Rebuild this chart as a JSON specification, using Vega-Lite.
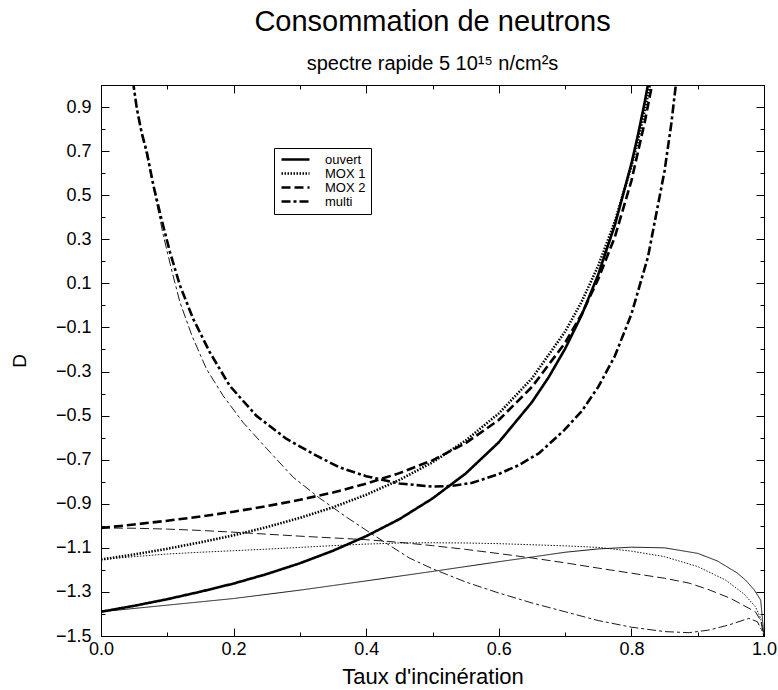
{
  "$schema": "https://vega.github.io/schema/vega-lite/v6.json",
  "width": 663,
  "height": 551,
  "autosize": {"type": "none"},
  "padding": {"left": 101, "top": 85, "right": 14, "bottom": 54},
  "background": "white",
  "config": {
    "font": "Liberation Sans",
    "view": {"stroke": "black", "strokeWidth": 1},
    "axis": {"domainColor": "black", "tickColor": "black", "labelColor": "black", "titleColor": "black", "grid": false, "labelFont": "Liberation Sans", "titleFont": "Liberation Sans", "titleFontWeight": "normal", "labelOverlap": false, "labelFlush": false, "labelBound": false}
  },
  "title": {"text": "Consommation de neutrons", "subtitle": "spectre rapide 5 10¹⁵ n/cm²s", "font": "Liberation Sans", "subtitleFont": "Liberation Sans", "fontSize": 29, "fontWeight": "normal", "color": "black", "subtitleFontSize": 20, "subtitleColor": "black", "anchor": "middle", "offset": -48, "subtitlePadding": 17},
  "datasets": {
    "curves": [
      {"serie": "ouvert", "kind": "thick", "x": 0, "D": -1.39},
      {"serie": "ouvert", "kind": "thick", "x": 0.05, "D": -1.363},
      {"serie": "ouvert", "kind": "thick", "x": 0.1, "D": -1.333},
      {"serie": "ouvert", "kind": "thick", "x": 0.15, "D": -1.299},
      {"serie": "ouvert", "kind": "thick", "x": 0.2, "D": -1.262},
      {"serie": "ouvert", "kind": "thick", "x": 0.25, "D": -1.219},
      {"serie": "ouvert", "kind": "thick", "x": 0.3, "D": -1.17},
      {"serie": "ouvert", "kind": "thick", "x": 0.35, "D": -1.113},
      {"serie": "ouvert", "kind": "thick", "x": 0.4, "D": -1.047},
      {"serie": "ouvert", "kind": "thick", "x": 0.45, "D": -0.97},
      {"serie": "ouvert", "kind": "thick", "x": 0.5, "D": -0.876},
      {"serie": "ouvert", "kind": "thick", "x": 0.55, "D": -0.763},
      {"serie": "ouvert", "kind": "thick", "x": 0.6, "D": -0.621},
      {"serie": "ouvert", "kind": "thick", "x": 0.65, "D": -0.439},
      {"serie": "ouvert", "kind": "thick", "x": 0.675, "D": -0.327},
      {"serie": "ouvert", "kind": "thick", "x": 0.7, "D": -0.197},
      {"serie": "ouvert", "kind": "thick", "x": 0.725, "D": -0.044},
      {"serie": "ouvert", "kind": "thick", "x": 0.75, "D": 0.14},
      {"serie": "ouvert", "kind": "thick", "x": 0.775, "D": 0.364},
      {"serie": "ouvert", "kind": "thick", "x": 0.8, "D": 0.643},
      {"serie": "ouvert", "kind": "thick", "x": 0.81, "D": 0.775},
      {"serie": "ouvert", "kind": "thick", "x": 0.82, "D": 0.921},
      {"serie": "ouvert", "kind": "thick", "x": 0.83, "D": 1.083},
      {"serie": "ouvert", "kind": "thick", "x": 0.84, "D": 1.266},

      {"serie": "MOX 1", "kind": "thick", "x": 0, "D": -1.153},
      {"serie": "MOX 1", "kind": "thick", "x": 0.05, "D": -1.13},
      {"serie": "MOX 1", "kind": "thick", "x": 0.1, "D": -1.104},
      {"serie": "MOX 1", "kind": "thick", "x": 0.15, "D": -1.075},
      {"serie": "MOX 1", "kind": "thick", "x": 0.2, "D": -1.043},
      {"serie": "MOX 1", "kind": "thick", "x": 0.25, "D": -1.006},
      {"serie": "MOX 1", "kind": "thick", "x": 0.3, "D": -0.964},
      {"serie": "MOX 1", "kind": "thick", "x": 0.35, "D": -0.916},
      {"serie": "MOX 1", "kind": "thick", "x": 0.4, "D": -0.859},
      {"serie": "MOX 1", "kind": "thick", "x": 0.45, "D": -0.792},
      {"serie": "MOX 1", "kind": "thick", "x": 0.5, "D": -0.712},
      {"serie": "MOX 1", "kind": "thick", "x": 0.55, "D": -0.613},
      {"serie": "MOX 1", "kind": "thick", "x": 0.6, "D": -0.49},
      {"serie": "MOX 1", "kind": "thick", "x": 0.65, "D": -0.331},
      {"serie": "MOX 1", "kind": "thick", "x": 0.7, "D": -0.119},
      {"serie": "MOX 1", "kind": "thick", "x": 0.725, "D": 0.017},
      {"serie": "MOX 1", "kind": "thick", "x": 0.75, "D": 0.18},
      {"serie": "MOX 1", "kind": "thick", "x": 0.775, "D": 0.38},
      {"serie": "MOX 1", "kind": "thick", "x": 0.8, "D": 0.631},
      {"serie": "MOX 1", "kind": "thick", "x": 0.81, "D": 0.75},
      {"serie": "MOX 1", "kind": "thick", "x": 0.82, "D": 0.883},
      {"serie": "MOX 1", "kind": "thick", "x": 0.83, "D": 1.031},
      {"serie": "MOX 1", "kind": "thick", "x": 0.84, "D": 1.199},

      {"serie": "MOX 2", "kind": "thick", "x": 0, "D": -1.01},
      {"serie": "MOX 2", "kind": "thick", "x": 0.05, "D": -0.994},
      {"serie": "MOX 2", "kind": "thick", "x": 0.1, "D": -0.977},
      {"serie": "MOX 2", "kind": "thick", "x": 0.15, "D": -0.958},
      {"serie": "MOX 2", "kind": "thick", "x": 0.2, "D": -0.936},
      {"serie": "MOX 2", "kind": "thick", "x": 0.25, "D": -0.911},
      {"serie": "MOX 2", "kind": "thick", "x": 0.3, "D": -0.882},
      {"serie": "MOX 2", "kind": "thick", "x": 0.35, "D": -0.849},
      {"serie": "MOX 2", "kind": "thick", "x": 0.4, "D": -0.809},
      {"serie": "MOX 2", "kind": "thick", "x": 0.45, "D": -0.761},
      {"serie": "MOX 2", "kind": "thick", "x": 0.5, "D": -0.703},
      {"serie": "MOX 2", "kind": "thick", "x": 0.55, "D": -0.625},
      {"serie": "MOX 2", "kind": "thick", "x": 0.6, "D": -0.52},
      {"serie": "MOX 2", "kind": "thick", "x": 0.65, "D": -0.37},
      {"serie": "MOX 2", "kind": "thick", "x": 0.7, "D": -0.17},
      {"serie": "MOX 2", "kind": "thick", "x": 0.725, "D": -0.04},
      {"serie": "MOX 2", "kind": "thick", "x": 0.75, "D": 0.12},
      {"serie": "MOX 2", "kind": "thick", "x": 0.775, "D": 0.31},
      {"serie": "MOX 2", "kind": "thick", "x": 0.8, "D": 0.565},
      {"serie": "MOX 2", "kind": "thick", "x": 0.82, "D": 0.83},
      {"serie": "MOX 2", "kind": "thick", "x": 0.835, "D": 1.06},
      {"serie": "MOX 2", "kind": "thick", "x": 0.845, "D": 1.25},

      {"serie": "multi", "kind": "thick", "x": 0.046, "D": 1.1},
      {"serie": "multi", "kind": "thick", "x": 0.049, "D": 1.0},
      {"serie": "multi", "kind": "thick", "x": 0.054, "D": 0.894},
      {"serie": "multi", "kind": "thick", "x": 0.061, "D": 0.788},
      {"serie": "multi", "kind": "thick", "x": 0.069, "D": 0.697},
      {"serie": "multi", "kind": "thick", "x": 0.079, "D": 0.545},
      {"serie": "multi", "kind": "thick", "x": 0.091, "D": 0.394},
      {"serie": "multi", "kind": "thick", "x": 0.104, "D": 0.242},
      {"serie": "multi", "kind": "thick", "x": 0.119, "D": 0.091},
      {"serie": "multi", "kind": "thick", "x": 0.139, "D": -0.061},
      {"serie": "multi", "kind": "thick", "x": 0.164, "D": -0.212},
      {"serie": "multi", "kind": "thick", "x": 0.194, "D": -0.364},
      {"serie": "multi", "kind": "thick", "x": 0.234, "D": -0.5},
      {"serie": "multi", "kind": "thick", "x": 0.28, "D": -0.606},
      {"serie": "multi", "kind": "thick", "x": 0.325, "D": -0.682},
      {"serie": "multi", "kind": "thick", "x": 0.36, "D": -0.735},
      {"serie": "multi", "kind": "thick", "x": 0.4, "D": -0.775},
      {"serie": "multi", "kind": "thick", "x": 0.45, "D": -0.808},
      {"serie": "multi", "kind": "thick", "x": 0.5, "D": -0.822},
      {"serie": "multi", "kind": "thick", "x": 0.526, "D": -0.82},
      {"serie": "multi", "kind": "thick", "x": 0.56, "D": -0.805},
      {"serie": "multi", "kind": "thick", "x": 0.6, "D": -0.765},
      {"serie": "multi", "kind": "thick", "x": 0.63, "D": -0.725},
      {"serie": "multi", "kind": "thick", "x": 0.661, "D": -0.67},
      {"serie": "multi", "kind": "thick", "x": 0.699, "D": -0.565},
      {"serie": "multi", "kind": "thick", "x": 0.725, "D": -0.48},
      {"serie": "multi", "kind": "thick", "x": 0.75, "D": -0.37},
      {"serie": "multi", "kind": "thick", "x": 0.775, "D": -0.23},
      {"serie": "multi", "kind": "thick", "x": 0.8, "D": -0.04},
      {"serie": "multi", "kind": "thick", "x": 0.825, "D": 0.22},
      {"serie": "multi", "kind": "thick", "x": 0.85, "D": 0.61},
      {"serie": "multi", "kind": "thick", "x": 0.86, "D": 0.82},
      {"serie": "multi", "kind": "thick", "x": 0.867, "D": 1.0},
      {"serie": "multi", "kind": "thick", "x": 0.872, "D": 1.15},

      {"serie": "ouvert", "kind": "thin", "x": 0, "D": -1.39},
      {"serie": "ouvert", "kind": "thin", "x": 0.1, "D": -1.36},
      {"serie": "ouvert", "kind": "thin", "x": 0.2, "D": -1.33},
      {"serie": "ouvert", "kind": "thin", "x": 0.3, "D": -1.292},
      {"serie": "ouvert", "kind": "thin", "x": 0.4, "D": -1.25},
      {"serie": "ouvert", "kind": "thin", "x": 0.5, "D": -1.207},
      {"serie": "ouvert", "kind": "thin", "x": 0.6, "D": -1.163},
      {"serie": "ouvert", "kind": "thin", "x": 0.64, "D": -1.146},
      {"serie": "ouvert", "kind": "thin", "x": 0.7, "D": -1.12},
      {"serie": "ouvert", "kind": "thin", "x": 0.75, "D": -1.105},
      {"serie": "ouvert", "kind": "thin", "x": 0.8, "D": -1.097},
      {"serie": "ouvert", "kind": "thin", "x": 0.85, "D": -1.1},
      {"serie": "ouvert", "kind": "thin", "x": 0.9, "D": -1.125},
      {"serie": "ouvert", "kind": "thin", "x": 0.93, "D": -1.16},
      {"serie": "ouvert", "kind": "thin", "x": 0.96, "D": -1.215},
      {"serie": "ouvert", "kind": "thin", "x": 0.972, "D": -1.246},
      {"serie": "ouvert", "kind": "thin", "x": 0.985, "D": -1.29},
      {"serie": "ouvert", "kind": "thin", "x": 0.995, "D": -1.337},
      {"serie": "ouvert", "kind": "thin", "x": 1.0, "D": -1.5},

      {"serie": "MOX 1", "kind": "thin", "x": 0, "D": -1.153},
      {"serie": "MOX 1", "kind": "thin", "x": 0.05, "D": -1.14},
      {"serie": "MOX 1", "kind": "thin", "x": 0.1, "D": -1.128},
      {"serie": "MOX 1", "kind": "thin", "x": 0.15, "D": -1.12},
      {"serie": "MOX 1", "kind": "thin", "x": 0.2, "D": -1.113},
      {"serie": "MOX 1", "kind": "thin", "x": 0.25, "D": -1.106},
      {"serie": "MOX 1", "kind": "thin", "x": 0.3, "D": -1.098},
      {"serie": "MOX 1", "kind": "thin", "x": 0.35, "D": -1.09},
      {"serie": "MOX 1", "kind": "thin", "x": 0.4, "D": -1.083},
      {"serie": "MOX 1", "kind": "thin", "x": 0.45, "D": -1.078},
      {"serie": "MOX 1", "kind": "thin", "x": 0.5, "D": -1.077},
      {"serie": "MOX 1", "kind": "thin", "x": 0.55, "D": -1.078},
      {"serie": "MOX 1", "kind": "thin", "x": 0.6, "D": -1.081},
      {"serie": "MOX 1", "kind": "thin", "x": 0.65, "D": -1.086},
      {"serie": "MOX 1", "kind": "thin", "x": 0.7, "D": -1.091},
      {"serie": "MOX 1", "kind": "thin", "x": 0.75, "D": -1.098},
      {"serie": "MOX 1", "kind": "thin", "x": 0.8, "D": -1.115},
      {"serie": "MOX 1", "kind": "thin", "x": 0.85, "D": -1.14},
      {"serie": "MOX 1", "kind": "thin", "x": 0.9, "D": -1.185},
      {"serie": "MOX 1", "kind": "thin", "x": 0.942, "D": -1.246},
      {"serie": "MOX 1", "kind": "thin", "x": 0.97, "D": -1.31},
      {"serie": "MOX 1", "kind": "thin", "x": 0.987, "D": -1.367},
      {"serie": "MOX 1", "kind": "thin", "x": 0.995, "D": -1.42},
      {"serie": "MOX 1", "kind": "thin", "x": 1.0, "D": -1.5},

      {"serie": "MOX 2", "kind": "thin", "x": 0, "D": -1.01},
      {"serie": "MOX 2", "kind": "thin", "x": 0.05, "D": -1.011},
      {"serie": "MOX 2", "kind": "thin", "x": 0.1, "D": -1.015},
      {"serie": "MOX 2", "kind": "thin", "x": 0.15, "D": -1.021},
      {"serie": "MOX 2", "kind": "thin", "x": 0.2, "D": -1.029},
      {"serie": "MOX 2", "kind": "thin", "x": 0.25, "D": -1.038},
      {"serie": "MOX 2", "kind": "thin", "x": 0.3, "D": -1.047},
      {"serie": "MOX 2", "kind": "thin", "x": 0.35, "D": -1.055},
      {"serie": "MOX 2", "kind": "thin", "x": 0.4, "D": -1.063},
      {"serie": "MOX 2", "kind": "thin", "x": 0.45, "D": -1.075},
      {"serie": "MOX 2", "kind": "thin", "x": 0.5, "D": -1.09},
      {"serie": "MOX 2", "kind": "thin", "x": 0.55, "D": -1.107},
      {"serie": "MOX 2", "kind": "thin", "x": 0.6, "D": -1.126},
      {"serie": "MOX 2", "kind": "thin", "x": 0.65, "D": -1.146},
      {"serie": "MOX 2", "kind": "thin", "x": 0.7, "D": -1.168},
      {"serie": "MOX 2", "kind": "thin", "x": 0.75, "D": -1.192},
      {"serie": "MOX 2", "kind": "thin", "x": 0.8, "D": -1.215},
      {"serie": "MOX 2", "kind": "thin", "x": 0.85, "D": -1.238},
      {"serie": "MOX 2", "kind": "thin", "x": 0.887, "D": -1.26},
      {"serie": "MOX 2", "kind": "thin", "x": 0.917, "D": -1.29},
      {"serie": "MOX 2", "kind": "thin", "x": 0.95, "D": -1.33},
      {"serie": "MOX 2", "kind": "thin", "x": 0.987, "D": -1.39},
      {"serie": "MOX 2", "kind": "thin", "x": 0.995, "D": -1.43},
      {"serie": "MOX 2", "kind": "thin", "x": 1.0, "D": -1.5},

      {"serie": "multi", "kind": "thin", "x": 0.046, "D": 1.1},
      {"serie": "multi", "kind": "thin", "x": 0.049, "D": 1.0},
      {"serie": "multi", "kind": "thin", "x": 0.054, "D": 0.89},
      {"serie": "multi", "kind": "thin", "x": 0.061, "D": 0.78},
      {"serie": "multi", "kind": "thin", "x": 0.069, "D": 0.68},
      {"serie": "multi", "kind": "thin", "x": 0.079, "D": 0.535},
      {"serie": "multi", "kind": "thin", "x": 0.094, "D": 0.318},
      {"serie": "multi", "kind": "thin", "x": 0.106, "D": 0.167},
      {"serie": "multi", "kind": "thin", "x": 0.119, "D": 0.015},
      {"serie": "multi", "kind": "thin", "x": 0.137, "D": -0.136},
      {"serie": "multi", "kind": "thin", "x": 0.159, "D": -0.288},
      {"serie": "multi", "kind": "thin", "x": 0.184, "D": -0.409},
      {"serie": "multi", "kind": "thin", "x": 0.214, "D": -0.53},
      {"serie": "multi", "kind": "thin", "x": 0.25, "D": -0.65},
      {"serie": "multi", "kind": "thin", "x": 0.29, "D": -0.78},
      {"serie": "multi", "kind": "thin", "x": 0.33, "D": -0.875},
      {"serie": "multi", "kind": "thin", "x": 0.37, "D": -0.96},
      {"serie": "multi", "kind": "thin", "x": 0.41, "D": -1.04},
      {"serie": "multi", "kind": "thin", "x": 0.465, "D": -1.146},
      {"serie": "multi", "kind": "thin", "x": 0.5, "D": -1.195},
      {"serie": "multi", "kind": "thin", "x": 0.55, "D": -1.255},
      {"serie": "multi", "kind": "thin", "x": 0.6, "D": -1.305},
      {"serie": "multi", "kind": "thin", "x": 0.65, "D": -1.35},
      {"serie": "multi", "kind": "thin", "x": 0.7, "D": -1.39},
      {"serie": "multi", "kind": "thin", "x": 0.75, "D": -1.43},
      {"serie": "multi", "kind": "thin", "x": 0.8, "D": -1.46},
      {"serie": "multi", "kind": "thin", "x": 0.85, "D": -1.48},
      {"serie": "multi", "kind": "thin", "x": 0.887, "D": -1.485},
      {"serie": "multi", "kind": "thin", "x": 0.917, "D": -1.473},
      {"serie": "multi", "kind": "thin", "x": 0.947, "D": -1.45},
      {"serie": "multi", "kind": "thin", "x": 0.977, "D": -1.42},
      {"serie": "multi", "kind": "thin", "x": 0.99, "D": -1.435},
      {"serie": "multi", "kind": "thin", "x": 0.996, "D": -1.47},
      {"serie": "multi", "kind": "thin", "x": 1.0, "D": -1.5}
    ]
  },
  "layer": [
    {
      "data": {"name": "curves"},
      "mark": {"type": "line", "clip": true, "color": "black", "strokeCap": "butt", "strokeJoin": "round"},
      "encoding": {
        "x": {
          "field": "x", "type": "quantitative",
          "scale": {"domain": [0, 1], "nice": false, "zero": false},
          "axis": {
            "orient": "bottom",
            "values": [0, 0.1, 0.2, 0.3, 0.4, 0.5, 0.6, 0.7, 0.8, 0.9, 1.0],
            "labelExpr": "round(datum.value*10) % 2 == 0 ? format(datum.value, '.1f') : ''",
            "tickSize": {"condition": {"test": "round(datum.value*10) % 2 == 0", "value": -8}, "value": -4},
            "labelPadding": 12,
            "labelFontSize": 18,
            "title": "Taux d'incinération",
            "titleFontSize": 22,
            "titlePadding": 4
          }
        },
        "y": {
          "field": "D", "type": "quantitative",
          "scale": {"domain": [-1.5, 1.0], "nice": false, "zero": false},
          "axis": {
            "orient": "left",
            "values": [-1.5, -1.4, -1.3, -1.2, -1.1, -1.0, -0.9, -0.8, -0.7, -0.6, -0.5, -0.4, -0.3, -0.2, -0.1, 0, 0.1, 0.2, 0.3, 0.4, 0.5, 0.6, 0.7, 0.8, 0.9, 1.0],
            "labelExpr": "round(datum.value*10) % 2 != 0 ? format(datum.value, '.1f') : ''",
            "tickSize": {"condition": {"test": "round(datum.value*10) % 2 != 0", "value": -8}, "value": -4},
            "labelPadding": 18,
            "labelFontSize": 18,
            "title": "D",
            "titleFontSize": 19,
            "titlePadding": 26
          }
        },
        "strokeDash": {
          "field": "serie", "type": "nominal",
          "scale": {"domain": ["ouvert", "MOX 1", "MOX 2", "multi"], "range": [[1, 0], [1.5, 1.5], [9, 4], [9, 3, 3, 3]]},
          "legend": {
            "orient": "none", "legendX": 173, "legendY": 63,
            "title": null,
            "symbolType": "M-2.8,0L2.8,0", "symbolStrokeWidth": 2.5, "symbolSize": 100, "symbolStrokeColor": "black", "symbolOffset": 10,
            "labelFontSize": 13, "labelFont": "Liberation Sans", "labelColor": "black", "labelOffset": 23,
            "strokeColor": "black", "fillColor": "white", "padding": 5, "rowPadding": 0, "cornerRadius": 0
          }
        },
        "strokeWidth": {
          "field": "kind", "type": "nominal",
          "scale": {"domain": ["thick", "thin"], "range": [2.6, 0.9]},
          "legend": null
        }
      }
    },
    {
      "data": {"name": "curves"},
      "mark": {"type": "line", "opacity": 0},
      "encoding": {
        "x": {
          "field": "x", "type": "quantitative",
          "scale": {"domain": [0, 1], "nice": false, "zero": false},
          "axis": {
            "orient": "top",
            "values": [0, 0.1, 0.2, 0.3, 0.4, 0.5, 0.6, 0.7, 0.8, 0.9, 1.0],
            "labels": false, "title": null,
            "tickSize": {"condition": {"test": "round(datum.value*10) % 2 == 0", "value": -8}, "value": -4}
          }
        },
        "y": {
          "field": "D", "type": "quantitative",
          "scale": {"domain": [-1.5, 1.0], "nice": false, "zero": false},
          "axis": {
            "orient": "right",
            "values": [-1.5, -1.4, -1.3, -1.2, -1.1, -1.0, -0.9, -0.8, -0.7, -0.6, -0.5, -0.4, -0.3, -0.2, -0.1, 0, 0.1, 0.2, 0.3, 0.4, 0.5, 0.6, 0.7, 0.8, 0.9, 1.0],
            "labels": false, "title": null,
            "tickSize": {"condition": {"test": "round(datum.value*10) % 2 != 0", "value": -8}, "value": -4}
          }
        }
      }
    }
  ],
  "resolve": {"axis": {"x": "independent", "y": "independent"}}
}
